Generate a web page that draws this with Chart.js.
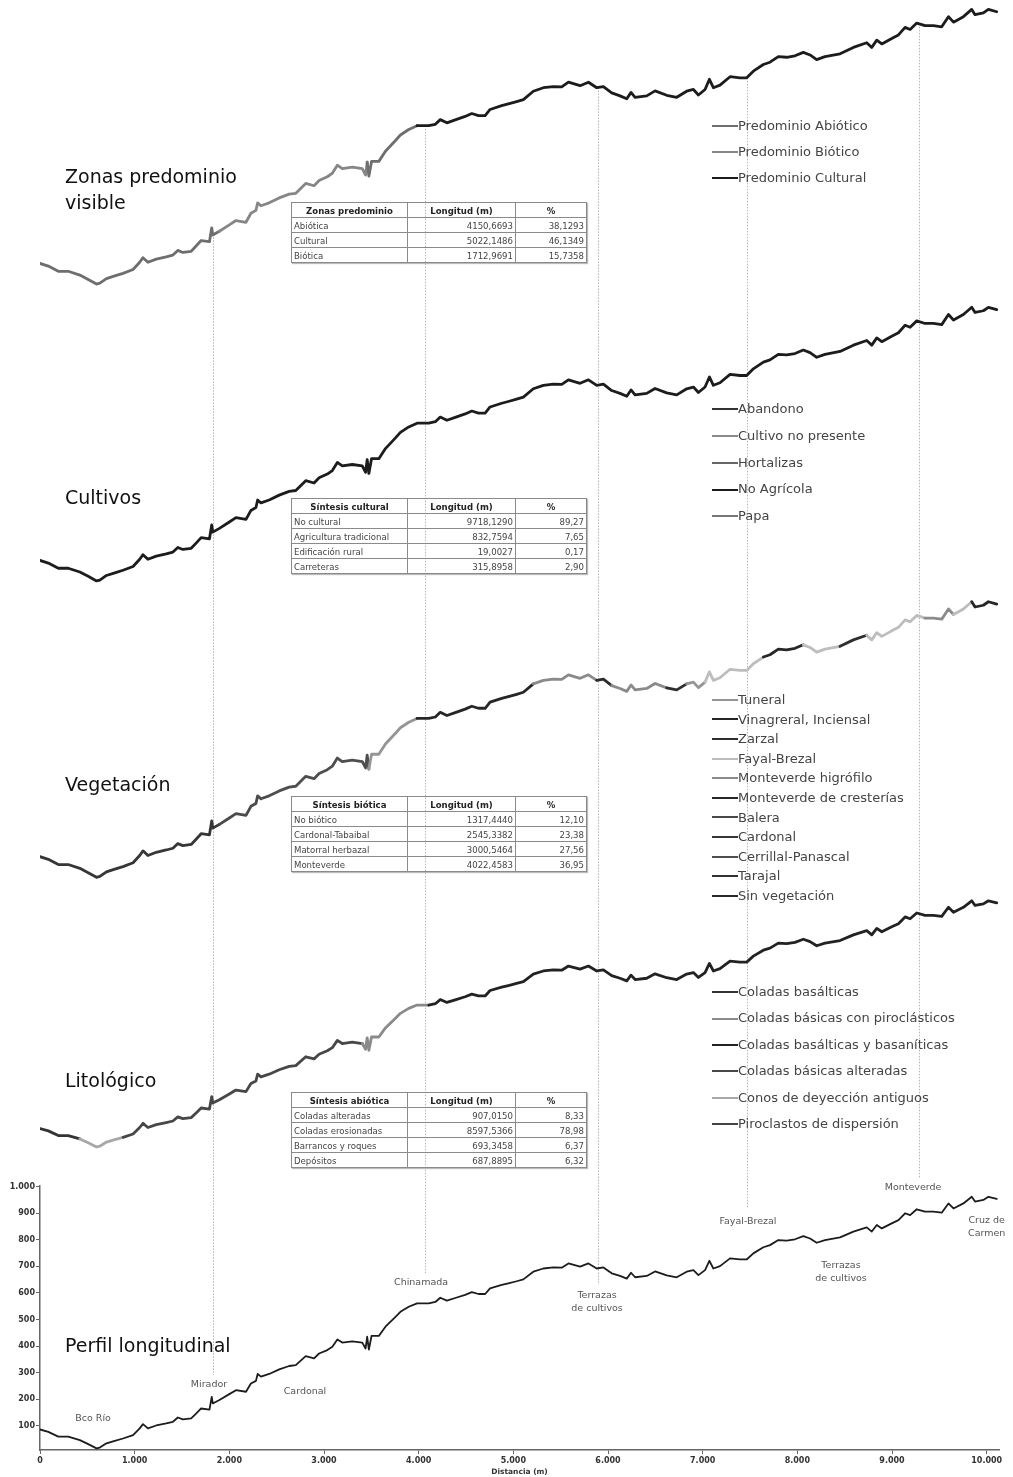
<!DOCTYPE html>
<html>
<head>
<meta charset="utf-8">
<script src="https://cdn.jsdelivr.net/npm/chart.js@4.4.1/dist/chart.umd.min.js"></script>
<style>
  body { margin: 0; background: #fff; }
  #wrap { position: relative; width: 1013px; height: 1477px; overflow: hidden; }
  canvas { position: absolute; left: 0; top: 0; }
  .title { position: absolute; left: 65px; font-family: "DejaVu Sans", Verdana, sans-serif; font-size: 19px; line-height: 26px; color: #111; white-space: nowrap; }
  .legend { position: absolute; left: 712px; font-family: "DejaVu Sans", Verdana, sans-serif; font-size: 13px; color: #444; }
  .legend div { position: relative; padding-left: 26px; white-space: nowrap; }
  .legend span { position: absolute; left: 0; top: 50%; width: 26px; height: 2px; margin-top: -1px; }
  table.t { position: absolute; left: 291px; border-collapse: collapse; table-layout: fixed; width: 295px;
    font-family: "Liberation Sans Narrow", "DejaVu Sans Condensed", sans-serif; font-size: 9.5px; color: #444;
    box-shadow: 1px 1px 1px #bbb; }
  table.t td, table.t th { border: 1px solid #8a8a8a; height: 14px; padding: 0 2px; line-height: 13px; overflow: hidden; white-space: nowrap; }
  table.t th { font-weight: bold; text-align: center; color: #222; }
  table.t td.n { text-align: right; }
</style>
</head>
<body>
<div id="wrap">
  <canvas id="chart" width="1013" height="1477"></canvas>
</div>
<script>
// elevation profile (distance m, elevation m)
const distance = [0, 88, 193, 298, 421, 509, 597, 632, 702, 790, 877, 983, 1053, 1088, 1140, 1228, 1333, 1404, 1456, 1509,
  1597, 1649, 1702, 1790, 1814, 1825, 1895, 2000, 2070, 2176, 2228, 2281, 2299, 2334, 2421, 2527, 2632, 2702, 2807, 2895,
  2948, 3035, 3088, 3141, 3193, 3298, 3404, 3439, 3456, 3474, 3502, 3579, 3649, 3755, 3807, 3895, 3983, 4106, 4176, 4228,
  4298, 4386, 4491, 4561, 4632, 4702, 4754, 4877, 4947, 5035, 5106, 5211, 5317, 5423, 5511, 5582, 5705, 5793, 5881, 5951,
  6039, 6127, 6198, 6243, 6286, 6409, 6497, 6620, 6726, 6831, 6902, 6955, 7025, 7071, 7113, 7183, 7289, 7394, 7465, 7535,
  7641, 7711, 7799, 7887, 7975, 8063, 8134, 8204, 8292, 8451, 8592, 8733, 8786, 8839, 8892, 8997, 9068, 9138, 9191, 9261,
  9349, 9437, 9525, 9596, 9649, 9754, 9842, 9877, 9965, 10018, 10106];
const elevation = [86, 77, 59, 59, 46, 31, 15, 18, 34, 43, 52, 65, 90, 106, 90, 101, 109, 115, 131, 124,
  128, 146, 165, 161, 209, 184, 197, 219, 234, 228, 259, 269, 295, 285, 295, 312, 325, 328, 362, 354,
  372, 385, 397, 425, 413, 418, 413, 391, 435, 387, 438, 438, 473, 510, 529, 548, 561, 561, 566, 582,
  571, 581, 593, 603, 596, 596, 617, 630, 636, 644, 651, 680, 692, 696, 695, 711, 699, 711, 692, 696,
  674, 664, 654, 676, 659, 664, 681, 666, 659, 680, 686, 667, 686, 721, 692, 701, 730, 726, 726, 749,
  772, 780, 799, 797, 802, 814, 805, 789, 799, 809, 831, 847, 831, 856, 843, 862, 874, 900, 893, 915,
  906, 906, 902, 937, 918, 937, 962, 944, 950, 962, 954];

const xTicks = [0, 1000, 2000, 3000, 4000, 5000, 6000, 7000, 8000, 9000, 10000];
const yTicks = [100, 200, 300, 400, 500, 600, 700, 800, 900, 1000];

// class breaks along the route (distance where a class starts) and the class shown there
const zonasLegend = ["Predominio Abiótico", "Predominio Biótico", "Predominio Cultural"];
const zonasBreaks = [0, 1830, 3450, 3950];
const zonasClass = [0, 1, 0, 2];

const cultivosLegend = ["Abandono", "Cultivo no presente", "Hortalizas", "No Agrícola", "Papa"];
const cultivosBreaks = [0];
const cultivosClass = [3];

const vegLegend = ["Tuneral", "Vinagreral, Inciensal", "Zarzal", "Fayal-Brezal", "Monteverde higrófilo",
  "Monteverde de cresterías", "Balera", "Cardonal", "Cerrillal-Panascal", "Tarajal", "Sin vegetación"];
const vegBreaks = [0, 1830, 2310, 3470, 3950, 5180, 5860, 5965, 6540, 6750, 7020, 7600, 7980, 8390, 8660, 9270, 9610, 9820];
const vegClass = [7, 6, 8, 0, 1, 4, 10, 4, 2, 0, 3, 5, 3, 2, 3, 4, 3, 5];

const litoLegend = ["Coladas basálticas", "Coladas básicas con piroclásticos", "Coladas basálticas y basaníticas",
  "Coladas básicas alteradas", "Conos de deyección antiguos", "Piroclastos de dispersión"];
const litoBreaks = [0, 350, 800, 3400, 4000];
const litoClass = [0, 4, 3, 1, 2];

// summary tables
const zonasHead = ["Zonas predominio", "Longitud (m)", "%"];
const zonasRows = [["Abiótica", "4150,6693", "38,1293"], ["Cultural", "5022,1486", "46,1349"], ["Biótica", "1712,9691", "15,7358"]];
const culturalHead = ["Síntesis cultural", "Longitud (m)", "%"];
const culturalRows = [["No cultural", "9718,1290", "89,27"], ["Agricultura tradicional", "832,7594", "7,65"],
  ["Edificación rural", "19,0027", "0,17"], ["Carreteras", "315,8958", "2,90"]];
const bioticaHead = ["Síntesis biótica", "Longitud (m)", "%"];
const bioticaRows = [["No biótico", "1317,4440", "12,10"], ["Cardonal-Tabaibal", "2545,3382", "23,38"],
  ["Matorral herbazal", "3000,5464", "27,56"], ["Monteverde", "4022,4583", "36,95"]];
const abioticaHead = ["Síntesis abiótica", "Longitud (m)", "%"];
const abioticaRows = [["Coladas alteradas", "907,0150", "8,33"], ["Coladas erosionadas", "8597,5366", "78,98"],
  ["Barrancos y roques", "693,3458", "6,37"], ["Depósitos", "687,8895", "6,32"]];

// place names on the bottom profile
const placeNames = ["Bco Río", "Mirador", "Cardonal", "Chinamada", "Terrazas\nde cultivos", "Fayal-Brezal",
  "Terrazas\nde cultivos", "Monteverde", "Cruz de\nCarmen"];
const placeDist = [560, 1785, 2799, 4025, 5884, 7478, 8461, 9222, 10000];
const placeElev = [129, 257, 230, 641, 592, 870, 705, 998, 874];

// dotted guides: distance and the elevation where they stop on the bottom profile
const guideDist = [1824, 4067, 5898, 7465, 9288];
const guideEnd = [291, 675, 630, 920, 1033];

// greys used for each class
const zonasColors = ["#6e6e6e", "#868686", "#1c1c1c"];
const cultivosColors = ["#333", "#8a8a8a", "#666", "#1c1c1c", "#777"];
const vegColors = ["#959595", "#262626", "#2e2e2e", "#bdbdbd", "#8a8a8a", "#262626", "#4a4a4a", "#363636", "#4e4e4e", "#333", "#2a2a2a"];
const litoColors = ["#333", "#8a8a8a", "#222", "#474747", "#a8a8a8", "#444"];

const FONT = "'DejaVu Sans', Verdana, sans-serif";
const fmt = v => String(v).replace(/\B(?=(\d{3})+(?!\d))/g, ".");

function colorAt(breaks, classes, colors, d) {
  let k = 0;
  for (let i = 0; i < breaks.length; i++) if (d >= breaks[i]) k = i;
  return colors[classes[k]];
}

function elevAt(d) {
  for (let i = 1; i < distance.length; i++) {
    if (d <= distance[i]) {
      const t = (d - distance[i - 1]) / (distance[i] - distance[i - 1]);
      return elevation[i - 1] + t * (elevation[i] - elevation[i - 1]);
    }
  }
  return elevation[elevation.length - 1];
}

// panel scales span the whole chart area; pick min/max so 0 m and 1000 m land on the wanted pixels
const AREA_TOP = 0, AREA_BOTTOM = 1450;
function panelScale(p0, p1000) {
  const s = (p0 - p1000) / 1000;
  return { type: "linear", display: false, min: -(AREA_BOTTOM - p0) / s, max: 1000 + (p1000 - AREA_TOP) / s };
}

const points = distance.map((d, i) => ({ x: d, y: elevation[i] }));
function profile(axis, breaks, classes, colors, width) {
  return {
    data: points, yAxisID: axis, borderWidth: width, pointRadius: 0, tension: 0,
    borderJoinStyle: "round", borderCapStyle: "round", borderColor: "#1c1c1c",
    segment: { borderColor: ctx => colorAt(breaks, classes, colors, ctx.p0.parsed.x) }
  };
}

const overlay = {
  id: "overlay",
  beforeDatasetsDraw(chart) {
    const { ctx, scales } = chart;
    ctx.save();
    ctx.strokeStyle = "#b5b5b5";
    ctx.lineWidth = 1;
    ctx.setLineDash([1.5, 1.5]);
    guideDist.forEach((d, i) => {
      const x = Math.round(scales.x.getPixelForValue(d)) + 0.5;
      ctx.beginPath();
      ctx.moveTo(x, scales.p1.getPixelForValue(elevAt(d)));
      ctx.lineTo(x, scales.y.getPixelForValue(guideEnd[i]));
      ctx.stroke();
    });
    ctx.restore();
  },
  afterDatasetsDraw(chart) {
    const { ctx, scales } = chart;
    ctx.save();
    ctx.font = "9.5px " + FONT;
    ctx.fillStyle = "#555";
    ctx.textAlign = "center";
    ctx.textBaseline = "middle";
    placeNames.forEach((name, i) => {
      const x = scales.x.getPixelForValue(placeDist[i]);
      const y = scales.y.getPixelForValue(placeElev[i]);
      name.split("\n").forEach((line, j) => ctx.fillText(line, x, y + j * 13));
    });
    ctx.restore();
  }
};

new Chart(document.getElementById("chart"), {
  type: "line",
  data: {
    datasets: [
      profile("p1", zonasBreaks, zonasClass, zonasColors, 2.8),
      profile("p2", cultivosBreaks, cultivosClass, cultivosColors, 2.8),
      profile("p3", vegBreaks, vegClass, vegColors, 2.8),
      profile("p4", litoBreaks, litoClass, litoColors, 2.8),
      profile("y", [0], [0], ["#1c1c1c"], 1.8)
    ]
  },
  options: {
    responsive: false,
    animation: false,
    layout: { padding: { left: 0, right: 14, top: 0, bottom: 0 } },
    plugins: { legend: { display: false }, tooltip: { enabled: false } },
    scales: {
      x: {
        type: "linear", min: 0, max: 10130,
        afterBuildTicks: s => { s.ticks = xTicks.map(v => ({ value: v })); },
        ticks: { maxRotation: 0, padding: 2, color: "#333", autoSkip: false,
          font: { family: FONT, size: 8, weight: "bold" }, callback: v => fmt(v) },
        grid: { drawOnChartArea: false, tickLength: 4, color: "#666" },
        border: { color: "#666", width: 1.5 },
        title: { display: true, text: "Distancia (m)", color: "#333", padding: 0, font: { family: FONT, size: 7.5, weight: "bold" } },
        afterFit: s => { s.height = 27; s.paddingLeft = 0; s.paddingRight = 0; }
      },
      p1: panelScale(288.4, -1.6),
      p2: panelScale(585.3, 296.3),
      p3: panelScale(881.7, 590.7),
      p4: panelScale(1150.9, 890.9),
      y: {
        type: "linear", stack: "v", stackWeight: 264, min: 8.7, max: 1002.6,
        afterBuildTicks: s => { s.ticks = yTicks.map(v => ({ value: v })); },
        ticks: { padding: 1, color: "#333", autoSkip: false,
          font: { family: FONT, size: 8, weight: "bold" }, callback: v => fmt(v) },
        grid: { drawOnChartArea: false, tickLength: 4, color: "#666" },
        border: { color: "#666", width: 1.5 },
        afterFit: s => { s.width = 40; s.paddingTop = 0; s.paddingBottom = 0; }
      },
      ypad: { type: "linear", display: false, stack: "v", stackWeight: 1186 }
    }
  },
  plugins: [overlay]
});

// titles, legends and tables laid over the chart
const wrap = document.getElementById("wrap");
function addTitle(text, top) {
  const el = document.createElement("div");
  el.className = "title";
  el.style.top = top + "px";
  el.innerHTML = text;
  wrap.appendChild(el);
}
function addLegend(labels, colors, top, step) {
  const el = document.createElement("div");
  el.className = "legend";
  el.style.top = top + "px";
  labels.forEach((label, i) => {
    const row = document.createElement("div");
    row.style.lineHeight = step + "px";
    row.innerHTML = '<span style="background:' + colors[i] + '"></span>' + label;
    el.appendChild(row);
  });
  wrap.appendChild(el);
}
function addTable(head, rows, top) {
  const t = document.createElement("table");
  t.className = "t";
  t.style.top = top + "px";
  let html = '<colgroup><col style="width:116px"><col style="width:108px"><col style="width:71px"></colgroup>';
  html += "<tr>" + head.map(h => "<th>" + h + "</th>").join("") + "</tr>";
  rows.forEach(r => { html += "<tr><td>" + r[0] + '</td><td class="n">' + r[1] + '</td><td class="n">' + r[2] + "</td></tr>"; });
  t.innerHTML = html;
  wrap.appendChild(t);
}

addTitle("Zonas predominio<br>visible", 163);
addTitle("Cultivos", 484);
addTitle("Vegetación", 771);
addTitle("Litológico", 1067);
addTitle("Perfil longitudinal", 1332);

addLegend(zonasLegend, zonasColors, 113, 26);
addLegend(cultivosLegend, cultivosColors, 396, 26.75);
addLegend(vegLegend, vegColors, 690, 19.6);
addLegend(litoLegend, litoColors, 979, 26.4);

addTable(zonasHead, zonasRows, 202);
addTable(culturalHead, culturalRows, 498);
addTable(bioticaHead, bioticaRows, 796);
addTable(abioticaHead, abioticaRows, 1092);
</script>
</body>
</html>
